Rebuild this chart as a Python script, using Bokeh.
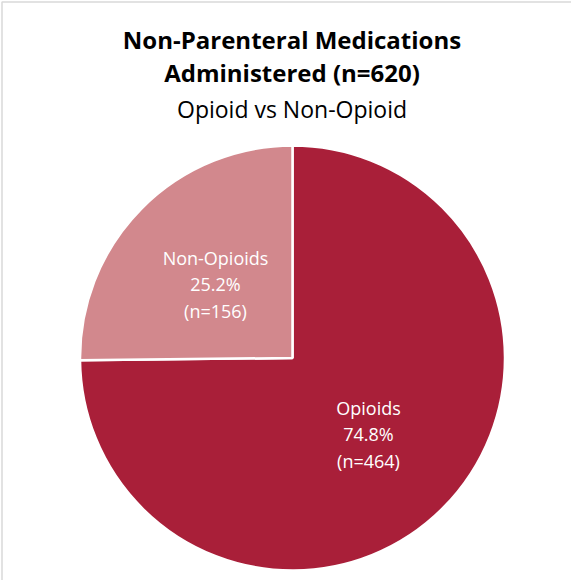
import numpy as np
from bokeh.plotting import figure
from bokeh.models import Range1d, ColumnDataSource
from bokeh.core.properties import value
from bokeh.embed import file_html
from bokeh.resources import INLINE

categories = ["Opioids", "Non-Opioids"]
counts = [464, 156]
colors = ["#A91F39", "#D2888D"]
title_lines = ["Non-Parenteral Medications", "Administered (n=620)"]
subtitle = "Opioid vs Non-Opioid"

FONT = "Open Sans"
W, H = 571, 580
p = figure(width=W, height=H, output_backend="svg", toolbar_location=None,
           x_range=Range1d(0, W), y_range=Range1d(0, H), min_border=0)
p.axis.visible = False
p.grid.visible = False
p.outline_line_color = None
p.background_fill_color = "white"
p.border_fill_color = "white"

# chart frame (left and top edges visible)
p.line([1.5, 1.5, W], [0, H - 1.5, H - 1.5], line_color="#D9D9D9", line_width=1.5)

total = sum(counts)
frac = np.array(counts) / total
# Excel-style: first slice starts at 12 o'clock going clockwise
ends = np.pi / 2 - np.concatenate([[0], np.cumsum(frac)[:-1]]) * 2 * np.pi
starts = ends - frac * 2 * np.pi
cx, cy, r = 292, 222.5, 212.5
src = ColumnDataSource(dict(cat=categories, start=starts, end=ends, color=colors))
p.wedge(x=cx, y=cy, radius=r, start_angle="start", end_angle="end",
        fill_color="color", line_color="white", line_width=2.5, source=src)

# slice labels (offsets from pie centre)
offsets = [(76, -76), (-77, 74)]
for i, c in enumerate(categories):
    lx = cx + offsets[i][0]
    ly = cy + offsets[i][1]
    lines = [c, f"{frac[i]*100:.1f}%", f"(n={counts[i]})"]
    for k, t in enumerate(lines):
        p.text(x=[lx], y=[ly - (k - 1) * 26.5], text=[t], text_color="white",
               text_font=value(FONT), text_font_size="18px",
               text_align="center", text_baseline="middle")

# titles
for k, t in enumerate(title_lines):
    p.text(x=[291.5], y=[541 - k * 33], text=[t], text_color="black",
           text_font=value(FONT), text_font_style="bold", text_font_size="24px",
           text_align="center", text_baseline="middle")
p.text(x=[291.5], y=[472], text=[subtitle], text_color="black",
       text_font=value(FONT), text_font_size="23px",
       text_align="center", text_baseline="middle")

open("out.html", "w").write(file_html(p, INLINE))
